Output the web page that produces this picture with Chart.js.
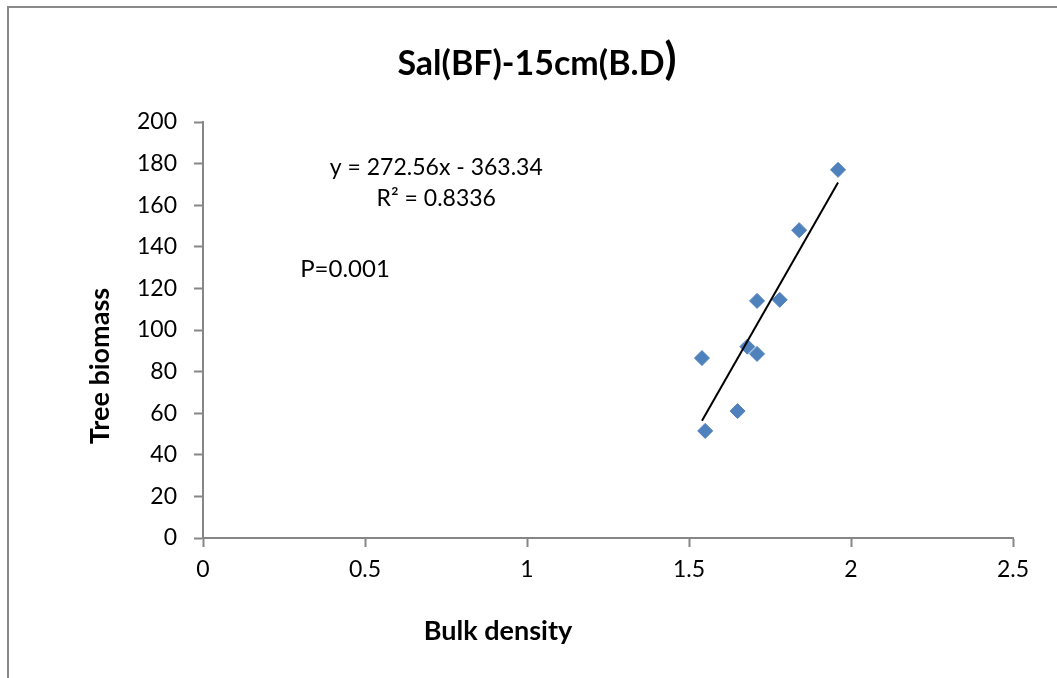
<!DOCTYPE html>
<html>
<head>
<meta charset="utf-8">
<script src="https://cdn.jsdelivr.net/npm/chart.js@4.4.1/dist/chart.umd.min.js"></script>
<style>
  body { margin: 0; background: #fff; overflow: hidden; }
  #wrap { position: relative; width: 1057px; height: 678px; }
  #frame {
    position: absolute; left: 7px; top: 6px; right: -20px; bottom: -20px;
    border-top: 2px solid #8a8a8a; border-left: 2px solid #8a8a8a;
  }
  #chart { position: absolute; left: 0; top: 0; }
</style>
</head>
<body>
<div id="wrap">
  <div id="frame"></div>
  <canvas id="chart" width="1057" height="678"></canvas>
</div>
<script>
// bulk density vs tree biomass, Sal (BF) at 15 cm
const bulkDensity = [1.96, 1.84, 1.71, 1.78, 1.68, 1.71, 1.54, 1.65, 1.55];
const treeBiomass = [177, 148, 114, 114.5, 92, 88.5, 86.5, 61, 51.5];

// linear fit reported on the chart
const slope = 272.56;
const intercept = -363.34;
const rSquared = '0.8336';
const pValue = '0.001';

const xTicks = [0, 0.5, 1, 1.5, 2, 2.5];
const yTicks = [0, 20, 40, 60, 80, 100, 120, 140, 160, 180, 200];

const FONT = 'Lato, "Open Sans", sans-serif';
const AXIS_GREY = '#868686';

const points = bulkDensity.map((x, i) => ({ x, y: treeBiomass[i] }));
const xMin = Math.min(...bulkDensity);
const xMax = Math.max(...bulkDensity);
const fitLine = [xMin, xMax].map(x => ({ x, y: slope * x + intercept }));

// title, axis titles and regression text
const labelsPlugin = {
  id: 'labels',
  afterDraw(chart) {
    const { ctx, scales } = chart;
    const sx = scales.x;
    const sy = scales.y;
    ctx.save();
    ctx.fillStyle = '#000';
    ctx.textBaseline = 'middle';

    // title, closing bracket drawn a little larger
    const main = 'Sal(BF)-15cm(B.D';
    ctx.font = `bold 34px ${FONT}`;
    const w1 = ctx.measureText(main).width;
    ctx.font = `bold 44px ${FONT}`;
    const w2 = ctx.measureText(')').width;
    const tx = 537 - (w1 + w2) / 2;
    ctx.textAlign = 'left';
    ctx.font = `bold 34px ${FONT}`;
    ctx.fillText(main, tx, 64);
    ctx.font = `bold 44px ${FONT}`;
    ctx.fillText(')', tx + w1, 60);

    // axis titles
    ctx.font = `bold 27px ${FONT}`;
    ctx.textAlign = 'center';
    ctx.fillText('Bulk density', 498, 631);
    ctx.save();
    ctx.translate(100, 366);
    ctx.rotate(-Math.PI / 2);
    ctx.fillText('Tree biomass', 0, 0);
    ctx.restore();

    ctx.font = `23px ${FONT}`;
    ctx.textAlign = 'center';
    const sign = intercept < 0 ? '-' : '+';
    ctx.fillText(`y = ${slope}x ${sign} ${Math.abs(intercept)}`, sx.getPixelForValue(0.72), sy.getPixelForValue(178));
    ctx.fillText(`R\u00B2 = ${rSquared}`, sx.getPixelForValue(0.72), sy.getPixelForValue(163));
    ctx.font = `24px ${FONT}`;
    ctx.textAlign = 'left';
    ctx.fillText(`P=${pValue}`, sx.getPixelForValue(0.3), sy.getPixelForValue(129));
    ctx.restore();
  }
};

new Chart(document.getElementById('chart'), {
  type: 'scatter',
  data: {
    datasets: [
      {
        label: 'Tree biomass',
        data: points,
        pointStyle: 'rectRot',
        pointRadius: 7.5,
        backgroundColor: '#4F81BD',
        borderColor: '#4F81BD',
        borderWidth: 1,
        order: 2
      },
      {
        label: 'Linear fit',
        type: 'line',
        data: fitLine,
        borderColor: '#000',
        borderWidth: 2,
        pointRadius: 0,
        fill: false,
        order: 1
      }
    ]
  },
  options: {
    responsive: false,
    animation: false,
    layout: { padding: { top: 122, right: 44, left: 0, bottom: 0 } },
    plugins: {
      legend: { display: false },
      tooltip: { enabled: false }
    },
    scales: {
      x: {
        type: 'linear',
        min: 0,
        max: 2.5,
        afterBuildTicks: s => { s.ticks = xTicks.map(v => ({ value: v })); },
        afterFit: s => { s.height = 140; },
        grid: { drawOnChartArea: false, drawTicks: true, tickLength: 9, tickColor: AXIS_GREY, tickWidth: 2 },
        border: { color: AXIS_GREY, width: 2 },
        ticks: {
          color: '#000',
          font: { family: FONT, size: 23 },
          padding: 9,
          callback: v => String(v)
        }
      },
      y: {
        type: 'linear',
        min: 0,
        max: 200,
        afterBuildTicks: s => { s.ticks = yTicks.map(v => ({ value: v })); },
        afterFit: s => { s.width = 203; },
        grid: { drawOnChartArea: false, drawTicks: true, tickLength: 9, tickColor: AXIS_GREY, tickWidth: 2 },
        border: { color: AXIS_GREY, width: 2 },
        ticks: {
          color: '#000',
          font: { family: FONT, size: 23 },
          padding: 17,
          callback: v => String(v)
        }
      }
    }
  },
  plugins: [labelsPlugin]
});
</script>
</body>
</html>
